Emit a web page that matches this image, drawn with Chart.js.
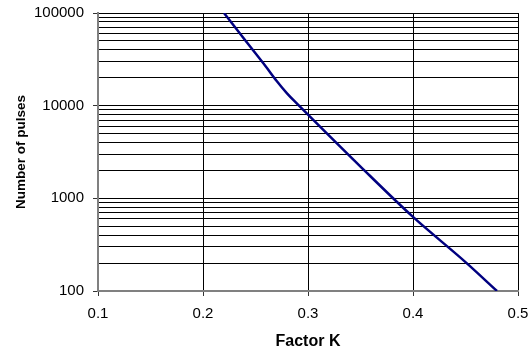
<!DOCTYPE html>
<html>
<head>
<meta charset="utf-8">
<script src="https://cdn.jsdelivr.net/npm/chart.js@4.4.1/dist/chart.umd.min.js"></script>
<style>
  html, body { margin: 0; padding: 0; background: #fff; }
  #wrap { width: 530px; height: 351px; }
</style>
</head>
<body>
<div id="wrap"><canvas id="pulse-chart"></canvas></div>
<script>
/* ===================== DATA ===================== */

const factorK = [0.22, 0.24, 0.26, 0.27, 0.28, 0.29, 0.30, 0.35, 0.40, 0.45, 0.48];
const pulses = [100000, 51000, 26300, 18600, 13600, 10400, 8000, 2200, 630, 205, 100];

const xTickValues = [0.1, 0.2, 0.3, 0.4, 0.5];
const xTickLabels = ["0.1", "0.2", "0.3", "0.4", "0.5"];

const yMajorValues = [100, 1000, 10000, 100000];
const yMajorLabels = ["100", "1000", "10000", "100000"];
const yMinorSteps = [2, 3, 4, 5, 6, 7, 8, 9];

/* ===================== CHART ===================== */

const FONT = "'Liberation Sans', Arial, sans-serif";
const AXIS_GREY = "#808080";

function yGridValues() {
  const out = [];
  yMajorValues.forEach((v, i) => {
    out.push(v);
    if (i < yMajorValues.length - 1) {
      yMinorSteps.forEach((s) => out.push(v * s));
    }
  });
  return out;
}

const canvas = document.getElementById("pulse-chart");

new Chart(canvas, {
  type: "line",
  data: {
    datasets: [
      {
        data: factorK.map((k, i) => ({ x: k, y: pulses[i] })),
        borderColor: "#000080",
        borderWidth: 2.5,
        pointRadius: 0,
        cubicInterpolationMode: "monotone",
        fill: false,
      },
    ],
  },
  options: {
    responsive: true,
    maintainAspectRatio: false,
    animation: false,
    layout: { padding: { left: 13, top: 13, right: 12, bottom: 0 } },
    plugins: { legend: { display: false }, tooltip: { enabled: false } },
    scales: {
      x: {
        type: "linear",
        min: 0.1,
        max: 0.5,
        afterBuildTicks: (scale) => {
          scale.ticks = xTickValues.map((v) => ({ value: v }));
        },
        afterFit: (scale) => {
          scale.height = 60;
          scale.paddingLeft = 0;
          scale.paddingRight = 0;
        },
        ticks: {
          autoSkip: false,
          maxRotation: 0,
          padding: 9,
          color: "#000",
          font: { family: FONT, size: 15 },
          callback: (v) => {
            const i = xTickValues.findIndex((t) => Math.abs(t - v) < 1e-9);
            return i >= 0 ? xTickLabels[i] : "";
          },
        },
        grid: {
          color: (ctx) => (ctx.index === 0 ? AXIS_GREY : "#000"),
          lineWidth: 1,
          tickLength: 5,
          tickColor: "#333",
        },
        border: { color: AXIS_GREY, width: 2 },
        title: {
          display: true,
          text: "Factor K",
          color: "#000",
          font: { family: FONT, size: 16, weight: "bold" },
          padding: 0,
        },
      },
      y: {
        type: "logarithmic",
        min: 100,
        max: 100000,
        afterBuildTicks: (scale) => {
          scale.ticks = yGridValues().map((v) => ({ value: v }));
        },
        afterFit: (scale) => {
          scale.width = 85;
          scale.paddingTop = 0;
          scale.paddingBottom = 0;
        },
        ticks: {
          autoSkip: false,
          padding: 9,
          color: "#000",
          font: { family: FONT, size: 15 },
          callback: (v) => {
            const i = yMajorValues.indexOf(v);
            return i >= 0 ? yMajorLabels[i] : "";
          },
        },
        grid: {
          color: (ctx) => (ctx.tick && ctx.tick.value === 100 ? AXIS_GREY : "#000"),
          lineWidth: 1,
          tickLength: 5,
          tickColor: (ctx) =>
            ctx.tick && yMajorValues.includes(ctx.tick.value) ? "#333" : "rgba(0,0,0,0)",
        },
        border: { color: AXIS_GREY, width: 2 },
        title: {
          display: true,
          text: "Number of pulses",
          color: "#000",
          font: { family: FONT, size: 13.5, weight: "bold" },
          padding: 0,
        },
      },
    },
  },
});
</script>
</body>
</html>
